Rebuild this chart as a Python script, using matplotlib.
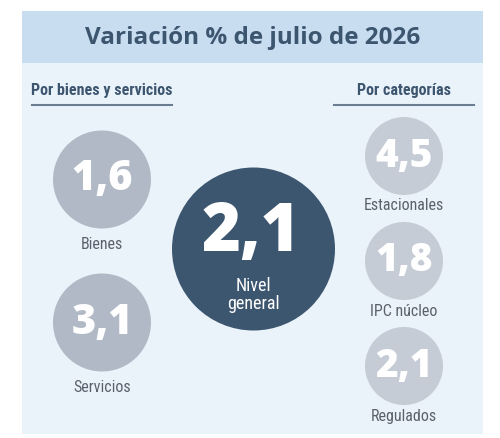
import matplotlib.pyplot as plt
from matplotlib.patches import Circle, Rectangle
from matplotlib import font_manager

# datos
titulo = "Variación % de julio de 2026"
general_valor = 2.1
general_etiqueta = "Nivel\ngeneral"
bys_etiquetas = ["Bienes", "Servicios"]
bys_valores = [1.6, 3.1]
cat_etiquetas = ["Estacionales", "IPC núcleo", "Regulados"]
cat_valores = [4.5, 1.8, 2.1]

def fmt(v):
    return f"{v:.1f}".replace(".", ",")

fams = {f.name for f in font_manager.fontManager.ttflist}
narrow = next((f for f in ["Roboto Condensed", "Liberation Sans Narrow", "Open Sans Condensed",
                           "DejaVu Sans Condensed", "Roboto"] if f in fams), "DejaVu Sans")
bold = "Open Sans" if "Open Sans" in fams else "DejaVu Sans"

azul = "#3d5670"
fig = plt.figure(figsize=(5, 4.38), dpi=100)
ax = fig.add_axes([0, 0, 1, 1])
ax.set_xlim(0, 500)
ax.set_ylim(438, 0)
ax.axis("off")

# fondo y cabecera
ax.add_patch(Rectangle((22, 11), 461, 423, color="#ebf3fa", lw=0))
ax.add_patch(Rectangle((22, 11), 461, 52, color="#c9ddf0", lw=0))
ax.text(253, 38, titulo, ha="center", va="center", fontsize=17.5,
        fontweight="bold", family=bold, color=azul)

# subtitulos
ax.text(102, 91, "Por bienes y servicios", ha="center", va="center",
        fontsize=11.5, fontweight="bold", family=narrow, color=azul)
ax.plot([32, 172], [105, 105], color="#6b7d90", lw=1.5)
ax.text(404, 91, "Por categorías", ha="center", va="center",
        fontsize=11.5, fontweight="bold", family=narrow, color=azul)
ax.plot([334, 474], [105, 105], color="#6b7d90", lw=1.5)

# nivel general
ax.add_patch(Circle((253.5, 249), 81.5, color=azul, lw=0))
ax.text(251, 233, fmt(general_valor), ha="center", va="center", fontsize=48,
        fontweight=800, family=bold, color="white")
ax.text(253, 295, general_etiqueta, ha="center", va="center", fontsize=13,
        family=narrow, color="white", linespacing=0.95)

# bienes y servicios
for i, (lab, v) in enumerate(zip(bys_etiquetas, bys_valores)):
    cy = 179.5 + i * 143
    ax.add_patch(Circle((102, cy), 49, color="#b1b9c6", lw=0))
    ax.text(102, cy, fmt(v), ha="center", va="center", fontsize=30,
            fontweight=800, family=bold, color="white")
    ax.text(102, cy + 65, lab, ha="center", va="center", fontsize=11.5,
            family=narrow, color="#5b616c")

# categorias
for i, (lab, v) in enumerate(zip(cat_etiquetas, cat_valores)):
    cy = 156 + i * 105
    ax.add_patch(Circle((404, cy), 39, color="#c6ccd6", lw=0))
    ax.text(404, cy, fmt(v), ha="center", va="center", fontsize=28,
            fontweight=800, family=bold, color="white")
    ax.text(404, cy + 50, lab, ha="center", va="center", fontsize=11.5,
            family=narrow, color="#5b616c")

fig.savefig("out.png", dpi=100)
